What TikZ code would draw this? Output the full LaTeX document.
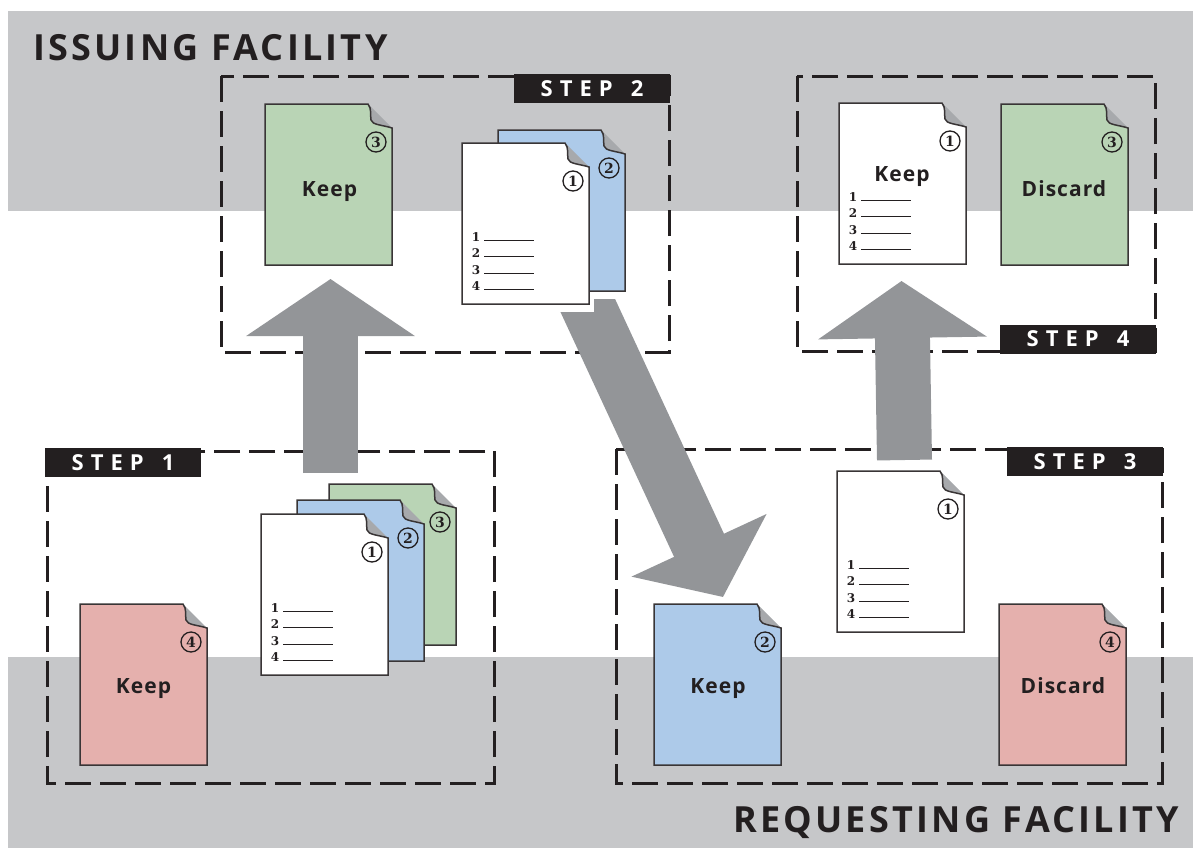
\documentclass[tikz,border=0pt]{standalone}
\usepackage{fontspec}
\setmainfont{Open Sans}
\newfontfamily\headfont[LetterSpace=9]{Open Sans}
\newfontfamily\stepfont[LetterSpace=32]{Open Sans}
\newfontfamily\keepfont[LetterSpace=5]{Open Sans}
\newfontfamily\numfont{DejaVu Serif}
\usetikzlibrary{arrows.meta}
\definecolor{bandgray}{HTML}{C6C7C9}
\definecolor{arrowgray}{HTML}{939598}
\definecolor{foldgray}{HTML}{A7A9AC}
\definecolor{inkblack}{HTML}{231F20}
\definecolor{sheetgreen}{HTML}{B9D4B5}
\definecolor{sheetblue}{HTML}{ADCAE9}
\definecolor{sheetred}{HTML}{E5B0AD}
\tikzset{
  dashbox/.style={draw=inkblack,line width=3pt,dash pattern=on 26pt off 9pt},
  steptag/.style={fill=inkblack,text=white,minimum width=156pt,minimum height=29pt,inner sep=0pt,
    font=\stepfont\bfseries\fontsize{22}{24}\selectfont},
  headline/.style={anchor=base west,inner sep=0pt,text=inkblack,
    font=\headfont\bfseries\fontsize{36}{40}\selectfont},
  sheetname/.style={anchor=base,inner sep=0pt,text=inkblack,font=\keepfont\bfseries\fontsize{21}{22}\selectfont},
  sheetnum/.style={circle,draw=inkblack,line width=1.3pt,fill=none,minimum size=20pt,inner sep=0pt,
    text=inkblack,font=\numfont\bfseries\fontsize{14}{15}\selectfont},
  listnum/.style={inner sep=0pt,text=inkblack,font=\numfont\bfseries\fontsize{12}{13}\selectfont},
  bigarrow/.style={draw=arrowgray,line width=55pt}
}
\newcommand{\sheet}[5]{
\begin{scope}[shift={(#1,#2)}]
\fill[foldgray] (103,0) -- (127,24) -- (106,21) -- cycle;
\draw[fill=#3,draw=inkblack!90,line width=1.5pt] (0,0) -- (103,0)
  .. controls (107,5) and (105,11) .. (106,16)
  .. controls (107,21) and (118,21) .. (127,24)
  -- (127,161) -- (0,161) -- cycle;
\node[sheetnum] (#5num) at (111,38) {#4};
\end{scope}
}
\newcommand{\sheetlist}[3]{
\begin{scope}[shift={(#1,#2)}]
\foreach \i/\j in {1/94,2/110,3/127,4/143} {
	\node[listnum] (#3row\i) at (14,\j) {\i};
	\coordinate (#3rowstart\i) at (22,\j+3.5);
	\coordinate (#3rowend\i) at (72,\j+3.5);
	\draw[inkblack,line width=0.8pt] (#3rowstart\i) -- (#3rowend\i);
}
\end{scope}
}
\begin{document}
\begin{tikzpicture}[x=1pt,y=-1pt]

%\draw[help lines] (0,0) grid (1193,849);
\useasboundingbox (0,0) rectangle (1193,849);

\fill[bandgray] (8,11) rectangle (1193,211);
\fill[bandgray] (8,657) rectangle (1193,848);

\node[headline] (issuing) at (33,60) {ISSUING FACILITY};
\node[headline] (requesting) at (733,832) {REQUESTING FACILITY};

\draw[dashbox] (221,76) rectangle (669,352);
\draw[dashbox] (797,76) rectangle (1155,351);
\draw[dashbox] (47,451) rectangle (494,783);
\draw[dashbox] (616,449) rectangle (1162,783);

\node[steptag] (steptwo) at (592,88.5) {STEP\hspace{18pt}2};
\node[steptag] (stepfour) at (1078,339) {STEP\hspace{18pt}4};
\node[steptag] (stepone) at (123,462.5) {STEP\hspace{18pt}1};
\node[steptag] (stepthree) at (1085,461.5) {STEP\hspace{18pt}3};

\coordinate (upleftstart) at (330.5,473);
\coordinate (uplefttip) at (330.5,279);
\coordinate (uprightstart) at (904.5,460);
\coordinate (uprighttip) at (901.5,281);
\coordinate (diagstart) at (575,278);
\coordinate (diagtip) at (723,597);

\draw[bigarrow,-{Triangle[length=57pt,width=166pt,fill=arrowgray]}] (upleftstart) -- (uplefttip);
\draw[bigarrow,-{Triangle[length=57pt,width=166pt,fill=arrowgray]}] (uprightstart) -- (uprighttip);
\begin{scope}
\clip (594,299) -| (1193,849) -| (0,312) -| cycle;
\draw[bigarrow,-{Triangle[length=57pt,width=146pt,fill=arrowgray]}] (diagstart) -- (diagtip);
\end{scope}

\sheet{265}{104}{sheetgreen}{3}{issuekeep}
\node[sheetname] (issuekeeptext) at (329.5,196.5) {Keep};

\sheet{498}{130}{sheetblue}{2}{issueblue}
\sheet{462}{143}{white}{1}{issuewhite}
\sheetlist{462}{143}{issuewhite}

\sheet{839}{103}{white}{1}{finalwhite}
\node[sheetname] (finalwhitetext) at (902,181) {Keep};
\sheetlist{839}{103}{finalwhite}
\sheet{1001}{104}{sheetgreen}{3}{finalgreen}
\node[sheetname] (finalgreentext) at (1064,196) {Discard};

\sheet{329}{484}{sheetgreen}{3}{startgreen}
\sheet{297}{500}{sheetblue}{2}{startblue}
\sheet{261}{514}{white}{1}{startwhite}
\sheetlist{261}{514}{startwhite}
\sheet{80}{604}{sheetred}{4}{startred}
\node[sheetname] (startredtext) at (143.5,693) {Keep};

\sheet{654}{604}{sheetblue}{2}{reqblue}
\node[sheetname] (reqbluetext) at (718,693) {Keep};
\sheet{837}{471}{white}{1}{reqwhite}
\sheetlist{837}{471}{reqwhite}
\sheet{999}{604}{sheetred}{4}{reqred}
\node[sheetname] (reqredtext) at (1063,693) {Discard};

\end{tikzpicture}
\end{document}
